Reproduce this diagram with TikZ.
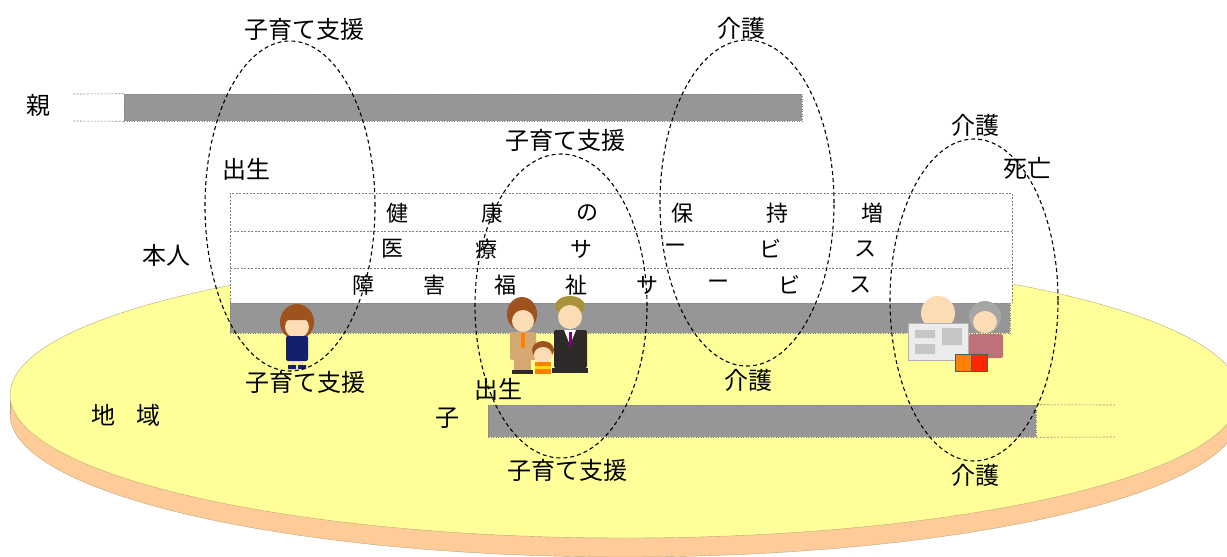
\documentclass[tikz,border=0pt]{standalone}
\usepackage{fontspec}
\setmainfont{Noto Sans CJK JP}
\usetikzlibrary{positioning}

\definecolor{discTop}{HTML}{FFFF99}
\definecolor{discSide}{HTML}{FFCC99}
\definecolor{discEdge}{HTML}{B8A878}
\definecolor{barGray}{HTML}{969696}
\definecolor{skinC}{HTML}{FCDCB4}
\definecolor{hairBrown}{HTML}{A0521E}
\definecolor{hairBlond}{HTML}{A8923A}
\definecolor{navyC}{HTML}{14206E}
\definecolor{suitBeige}{HTML}{D4A870}
\definecolor{suitDark}{HTML}{2E2A2A}
\definecolor{roseC}{HTML}{C07078}

\begin{document}
\begin{tikzpicture}[x=1pt,y=-1pt,
  lbl/.style={font=\fontsize{24}{24}\selectfont,inner sep=0pt},
  row char/.style={font=\fontsize{22}{22}\selectfont,inner sep=0pt},
  life bar/.style={fill=barGray,draw=gray,dotted,line width=0.5pt,inner sep=0pt},
  guide/.style={draw=gray,dash pattern=on 2pt off 1.5pt,line width=0.6pt},
  phase/.style={draw=black,dash pattern=on 4pt off 3pt,line width=1.1pt},
  skin/.style={fill=skinC}]
  \useasboundingbox (0,0) rectangle (1227,557);
  \clip (0,0) rectangle (1227,557);

  % the region: a flat yellow disc
  \filldraw[fill=discSide,draw=discEdge,line width=0.4pt] (625,414) ellipse [x radius=615pt,y radius=143pt];
  \fill[discSide] (10,395) rectangle (1240,414);
  \draw[discEdge,line width=0.4pt] (10,395) -- (10,414);
  \filldraw[fill=discTop,draw=discEdge,line width=0.4pt] (625,395) ellipse [x radius=615pt,y radius=143pt];

  % rows of the self band
  \fill[white] (230,193) rectangle (1012,303);
  \draw[guide] (230,303) -- (230,193) -- (1012,193) -- (1012,303);
  \draw[guide] (230,231) -- (1012,231);
  \draw[guide] (230,268) -- (1012,268);

  % life bars
  \node[life bar,minimum width=678pt,minimum height=27pt] (oya bar) at (463,107.5) {};
  \node[life bar,minimum width=780pt,minimum height=30pt] (self bar) at (620,318) {};
  \node[life bar,minimum width=548pt,minimum height=32pt] (ko bar) at (762,421) {};
  \coordinate (oya start a) at (73,94);
  \coordinate (oya start b) at (73,121);
  \coordinate (ko end a) at (1115,405);
  \coordinate (ko end b) at (1115,437);
  \draw[guide] (oya start a) -- (oya bar.north west);
  \draw[guide] (oya start b) -- (oya bar.south west);
  \draw[guide] (ko bar.north east) -- (ko end a);
  \draw[guide] (ko bar.south east) -- (ko end b);

  % services
  \foreach \ch [count=\i] in {健,康,の,保,持,増}
    \node[row char] (hoji\i) at ({397+95*(\i-1)},213) {\ch};
  \foreach \ch [count=\i] in {医,療,サ,ー,ビ,ス}
    \node[row char] (iryo\i) at ({392+94.6*(\i-1)},249) {\ch};
  \foreach \ch [count=\i] in {障,害,福,祉,サ,ー,ビ,ス}
    \node[row char] (fukushi\i) at ({363+71*(\i-1)},285) {\ch};

  % girl
  \fill[hairBrown] (297,322) ellipse [x radius=17pt,y radius=18pt];
  \fill[skin] (297,327) ellipse [x radius=12pt,y radius=11pt];
  \fill[hairBrown] (284,320) .. controls (288,306) and (306,306) .. (310,320) -- cycle;
  \fill[navyC,rounded corners=2pt] (286,336) rectangle (308,361);
  \fill[skin] (291,361) rectangle (295,366) (299,361) rectangle (303,366);
  \fill[navyC] (288,365) rectangle (296,369) (298,365) rectangle (306,369);

  % young family
  \fill[hairBrown] (522,314) ellipse [x radius=15pt,y radius=17pt];
  \fill[skin] (523,321) ellipse [x radius=11pt,y radius=11pt];
  \fill[suitBeige,rounded corners=2pt] (510,332) rectangle (536,360);
  \fill[suitBeige] (514,360) rectangle (531,372);
  \fill[suitDark] (512,370) rectangle (533,374);
  \fill[orange] (521,333) rectangle (525,348);
  \fill[hairBlond] (570,306) ellipse [x radius=15pt,y radius=10pt];
  \fill[skin] (570,317) ellipse [x radius=12pt,y radius=12pt];
  \fill[suitDark,rounded corners=2pt] (554,330) rectangle (587,368);
  \fill[white] (564,330) -- (576,330) -- (570,345) -- cycle;
  \fill[violet] (569,332) rectangle (572,346);
  \fill[suitDark] (552,368) rectangle (588,373);
  \fill[hairBrown] (543,350) ellipse [x radius=11pt,y radius=9pt];
  \fill[skin] (543,355) ellipse [x radius=9pt,y radius=8pt];
  \fill[orange] (535,362) rectangle (551,374);
  \fill[yellow!80!orange] (535,366) rectangle (551,369);

  % elderly couple
  \fill[skin] (938,313) ellipse [x radius=17pt,y radius=17pt];
  \fill[gray!15,draw=gray!60] (908,323) rectangle (968,360);
  \fill[gray!45] (915,330) rectangle (935,338) (942,328) rectangle (962,345) (915,344) rectangle (935,354);
  \fill[gray!70] (985,317) ellipse [x radius=16pt,y radius=16pt];
  \fill[skin] (985,322) ellipse [x radius=12pt,y radius=11pt];
  \fill[roseC,rounded corners=2pt] (969,334) rectangle (1003,358);
  \fill[orange,draw=gray!70!black] (955,354) rectangle (971,371);
  \fill[red!70!orange,draw=gray!70!black] (971,354) rectangle (987,371);

  % care and child-rearing phases
  \draw[phase] (290,206) ellipse [x radius=85pt,y radius=165pt];
  \draw[phase] (561,306) ellipse [x radius=86pt,y radius=152pt];
  \draw[phase] (747,203) ellipse [x radius=87pt,y radius=163pt];
  \draw[phase] (974,300) ellipse [x radius=84pt,y radius=161pt];

  % labels
  \node[lbl] (oya) at (38,105) {親};
  \node[lbl] (honnin) at (166,255) {本人};
  \node[lbl] (ko) at (447,418) {子};
  \node[lbl] (chiiki) at (126,415) {地\hspace{0.9em}域};

  \node[lbl] (shien1) at (304,29) {子育て支援};
  \node[lbl] (shussei1) at (246,169) {出生};
  \node[lbl] (shien2) at (305,382) {子育て支援};
  \node[lbl] (shien3) at (565,140) {子育て支援};
  \node[lbl] (shussei2) at (498,389) {出生};
  \node[lbl] (shien4) at (567,470) {子育て支援};
  \node[lbl] (kaigo1) at (741,28) {介護};
  \node[lbl] (kaigo2) at (748,380) {介護};
  \node[lbl] (kaigo3) at (975,125) {介護};
  \node[lbl] (shibo) at (1027,168) {死亡};
  \node[lbl] (kaigo4) at (975,475) {介護};
\end{tikzpicture}
\end{document}
